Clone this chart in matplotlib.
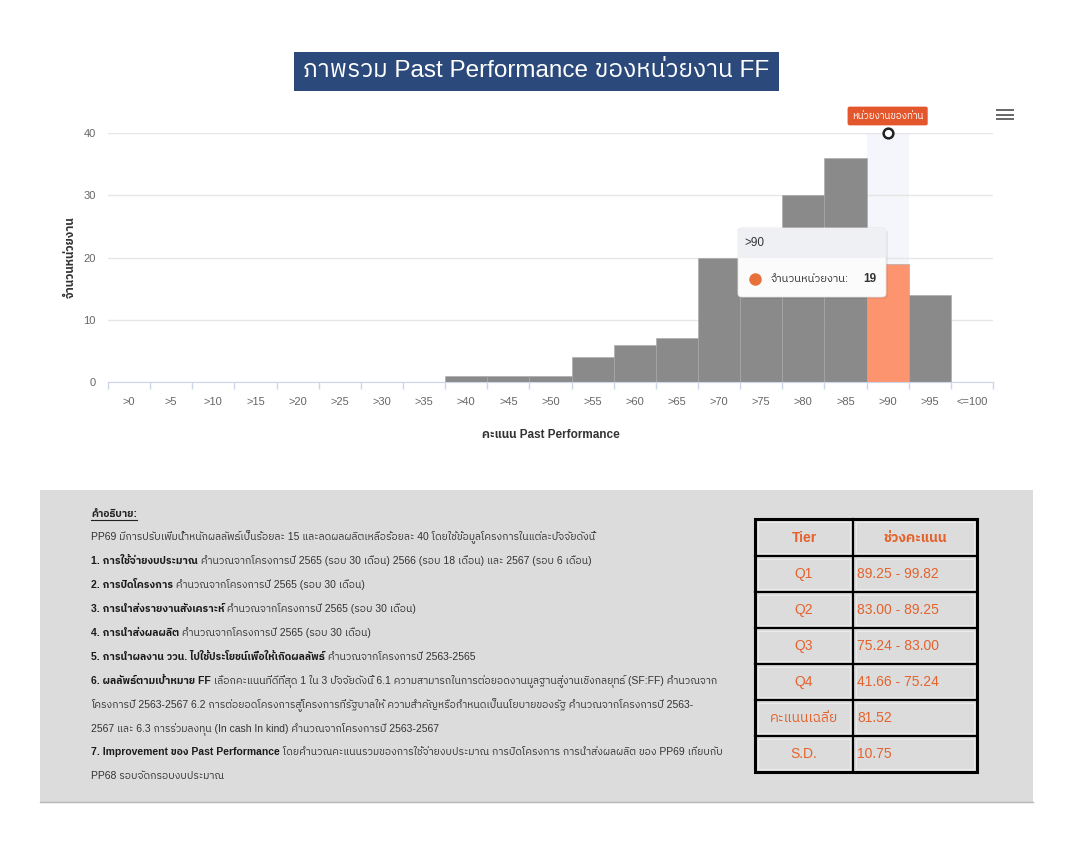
import numpy as np
import matplotlib
matplotlib.use('Agg')
import matplotlib.pyplot as plt
from matplotlib.patches import Rectangle, FancyBboxPatch
from matplotlib.lines import Line2D

plt.rcParams['font.family'] = ['Liberation Sans', 'IBM Plex Sans Thai', 'DejaVu Sans']

# ---- data ----
categories = ['>0', '>5', '>10', '>15', '>20', '>25', '>30', '>35', '>40', '>45',
              '>50', '>55', '>60', '>65', '>70', '>75', '>80', '>85', '>90', '>95', '<=100']
counts = [0, 0, 0, 0, 0, 0, 0, 0, 1, 1, 1, 4, 6, 7, 20, 20, 30, 36, 19, 14, 0]
highlight = '>90'
y_ticks = [0, 10, 20, 30, 40]

title = 'ภาพรวม Past Performance ของหน่วยงาน FF'
x_label = 'คะแนน Past Performance'
y_label = 'จำนวนหน่วยงาน'
flag_label = 'หน่วยงานของท่าน'
tooltip_name = 'จำนวนหน่วยงาน:'

notes_head = 'คำอธิบาย:'
notes_bold = ['', '1. การใช้จ่ายงบประมาณ', '2. การปิดโครงการ', '3. การนำส่งรายงานสังเคราะห์',
              '4. การนำส่งผลผลิต', '5. การนำผลงาน ววน. ไปใช้ประโยชน์เพื่อให้เกิดผลลัพธ์',
              '6. ผลลัพธ์ตามเป้าหมาย FF', '', '', '7. Improvement ของ Past Performance', '']
notes_text = [
    'PP69 มีการปรับเพิ่มน้ำหนักผลลัพธ์เป็นร้อยละ 15 และลดผลผลิตเหลือร้อยละ 40 โดยใช้ข้อมูลโครงการในแต่ละปัจจัยดังนี้',
    ' คำนวณจากโครงการปี 2565 (รอบ 30 เดือน) 2566 (รอบ 18 เดือน) และ 2567 (รอบ 6 เดือน)',
    ' คำนวณจากโครงการปี 2565 (รอบ 30 เดือน)',
    ' คำนวณจากโครงการปี 2565 (รอบ 30 เดือน)',
    ' คำนวณจากโครงการปี 2565 (รอบ 30 เดือน)',
    ' คำนวณจากโครงการปี 2563-2565',
    ' เลือกคะแนนที่ดีที่สุด 1 ใน 3 ปัจจัยดังนี้ 6.1 ความสามารถในการต่อยอดงานมูลฐานสู่งานเชิงกลยุทธ์ (SF:FF) คำนวณจาก',
    'โครงการปี 2563-2567 6.2 การต่อยอดโครงการสู่โครงการที่รัฐบาลให้ ความสำคัญหรือกำหนดเป็นนโยบายของรัฐ คำนวณจากโครงการปี 2563-',
    '2567 และ 6.3 การร่วมลงทุน (In cash In kind) คำนวณจากโครงการปี 2563-2567',
    ' โดยคำนวณคะแนนรวมของการใช้จ่ายงบประมาณ การปิดโครงการ การนำส่งผลผลิต ของ PP69 เทียบกับ',
    'PP68 รอบจัดกรอบงบประมาณ',
]

table_header = ['Tier', 'ช่วงคะแนน']
tiers = ['Q1', 'Q2', 'Q3', 'Q4', 'คะแนนเฉลี่ย', 'S.D.']
ranges = ['89.25 - 99.82', '83.00 - 89.25', '75.24 - 83.00', '41.66 - 75.24', '81.52', '10.75']

W, H = 1089, 842
fig = plt.figure(figsize=(W / 100, H / 100), dpi=100)
fig.patch.set_facecolor('white')


def px(x, y):
    return x / W, 1 - y / H


# title box
fig.patches.append(Rectangle(px(294, 91), 485 / W, 39 / H, transform=fig.transFigure,
                             facecolor='#2b4a7b', edgecolor='none'))
fig.text(*px(536, 71), title, color='white', fontsize=17.5, ha='center', va='center')

# ---- histogram ----
ax = fig.add_axes([108 / W, 1 - 382 / H, 885 / W, 249 / H])
x = np.arange(len(categories))
hi = categories.index(highlight)
ax.axvspan(hi - 0.5, hi + 0.5, color='#f4f6fb', zorder=0, lw=0)
cols = ['#fd9470' if c == highlight else '#8a8a8a' for c in categories]
nz = [i for i, v in enumerate(counts) if v > 0]
ax.bar(x[nz], np.array(counts)[nz], width=1, color=np.array(cols)[nz],
       edgecolor='#a8a8a8', linewidth=0.4, zorder=2)

ax.set_xlim(-0.5, len(categories) - 0.5)
ax.set_ylim(0, 40)
ax.set_yticks(y_ticks)
ax.set_xticks(x)
ax.set_xticklabels(categories)
ax.set_xticks(np.arange(-0.5, len(categories)), minor=True)
ax.tick_params(axis='x', which='major', length=0, pad=11, labelsize=8, labelcolor='#666666')
ax.tick_params(axis='x', which='minor', length=5, color='#ccd6eb', width=1)
ax.tick_params(axis='y', length=0, pad=9, labelsize=8, labelcolor='#666666')
ax.yaxis.grid(True, color='#e6e6e6', lw=1)
ax.set_axisbelow(True)
for s in ['top', 'right', 'left']:
    ax.spines[s].set_visible(False)
ax.spines['bottom'].set_color('#ccd6eb')
ax.set_facecolor('none')
ax.set_xlabel(x_label, fontsize=8.5, fontweight='bold', color='#333333')
ax.xaxis.set_label_coords(0.5, -0.19)
ax.set_ylabel(y_label, fontsize=8.5, fontweight='bold', color='#333333')
ax.yaxis.set_label_coords(-0.035, 0.5)

# marker and flag for own unit
ax.plot([hi], [y_ticks[-1]], marker='o', ms=7, mfc='white', mec='#222222', mew=1.8,
        clip_on=False, zorder=5)
ax.annotate(flag_label, xy=(hi, y_ticks[-1]), xytext=(0, 17), textcoords='offset pixels',
            ha='center', va='center', fontsize=7, color='white',
            bbox=dict(boxstyle='round,pad=0.45,rounding_size=0.2', fc='#e4572c', ec='none'))

# hamburger icon
for yy in [110, 115, 119]:
    fig.lines.append(Line2D([997 / W, 1013 / W], [1 - yy / H] * 2, transform=fig.transFigure,
                            color='#666666', lw=1.4))

# tooltip
fig.patches.append(FancyBboxPatch(px(740, 299), 148 / W, 69 / H, transform=fig.transFigure,
                                  boxstyle='round,pad=0,rounding_size=0.004',
                                  fc='#000000', ec='none', alpha=0.06, zorder=6))
fig.patches.append(FancyBboxPatch(px(738, 297), 148 / W, 69 / H, transform=fig.transFigure,
                                  boxstyle='round,pad=0,rounding_size=0.004',
                                  fc='#fbfbfb', ec='#e4e4e4', lw=0.6, zorder=7))
fig.patches.append(Rectangle(px(738.5, 258), 147 / W, 29.5 / H, transform=fig.transFigure,
                             fc='#eef0f3', ec='none', zorder=8))
fig.text(*px(744, 243), highlight, fontsize=8.5, color='#333333', va='center', zorder=9)
fig.lines.append(Line2D([755 / W], [1 - 279 / H], transform=fig.transFigure, marker='o',
                        ms=9, mfc='#e8703a', mec='none', zorder=9))
fig.text(*px(771, 279), tooltip_name, fontsize=8, color='#333333', va='center', zorder=9)
fig.text(*px(863, 279), str(counts[hi]), fontsize=8.5, fontweight='bold', color='#333333',
         va='center', zorder=9)

# ---- notes panel ----
fig.patches.append(Rectangle(px(40, 802), 993 / W, 312 / H, transform=fig.transFigure,
                             fc='#dcdcdc', ec='none', zorder=0))
fig.lines.append(Line2D([40 / W, 1033 / W], [1 - 802 / H] * 2, transform=fig.transFigure,
                        color='#b5b5b5', lw=1))

r = fig.canvas.get_renderer()
fs = 7.5
t = fig.text(*px(91, 514), notes_head, fontsize=fs, fontweight='bold', color='#222222',
             va='center')
bb = t.get_window_extent(r)
fig.lines.append(Line2D([bb.x0 / W, bb.x1 / W], [(bb.y0 - 1) / H] * 2,
                        transform=fig.transFigure, color='#222222', lw=0.8))
line_y = [537, 561, 585, 609, 633, 657, 681, 705, 729, 752, 776]
for yy, b, rest in zip(line_y, notes_bold, notes_text):
    xx = 91
    if b:
        t = fig.text(*px(xx, yy), b, fontsize=fs, fontweight='bold', color='#1a1a1a',
                     va='center')
        xx = t.get_window_extent(r).x1
    fig.text(*px(xx, yy), rest, fontsize=fs, color='#333333', va='center')

# ---- tier table ----
col_x = [755, 853, 977]
row_y = [519, 556, 592, 628, 664, 700, 736, 772]
orange = '#e4622c'
for i in range(len(row_y) - 1):
    for j in range(2):
        fig.patches.append(Rectangle(px(col_x[j] + 3, row_y[i + 1] - 3),
                                     (col_x[j + 1] - col_x[j] - 6) / W,
                                     (row_y[i + 1] - row_y[i] - 6) / H,
                                     transform=fig.transFigure, fc='#dcdcdc',
                                     ec='#ebebeb', lw=0.8))
for yy in row_y[1:-1]:
    fig.lines.append(Line2D([col_x[0] / W, col_x[-1] / W], [1 - yy / H] * 2,
                            transform=fig.transFigure, color='black', lw=1.6))
fig.lines.append(Line2D([col_x[1] / W] * 2, [1 - row_y[0] / H, 1 - row_y[-1] / H],
                        transform=fig.transFigure, color='black', lw=1.6))
fig.patches.append(Rectangle(px(col_x[0], row_y[-1]), (col_x[-1] - col_x[0]) / W,
                             (row_y[-1] - row_y[0]) / H, transform=fig.transFigure,
                             fc='none', ec='black', lw=2.2))
mid = lambda i: (row_y[i] + row_y[i + 1]) / 2
fig.text(*px((col_x[0] + col_x[1]) / 2, mid(0)), table_header[0], fontsize=10,
         fontweight='bold', color=orange, ha='center', va='center')
fig.text(*px((col_x[1] + col_x[2]) / 2, mid(0)), table_header[1], fontsize=10,
         fontweight='bold', color=orange, ha='center', va='center')
for i, (tier, rg) in enumerate(zip(tiers, ranges)):
    fig.text(*px((col_x[0] + col_x[1]) / 2, mid(i + 1)), tier, fontsize=10, color=orange,
             ha='center', va='center')
    fig.text(*px(col_x[1] + 4, mid(i + 1)), rg, fontsize=10, color=orange,
             ha='left', va='center')

fig.savefig('out.png', dpi=100)
